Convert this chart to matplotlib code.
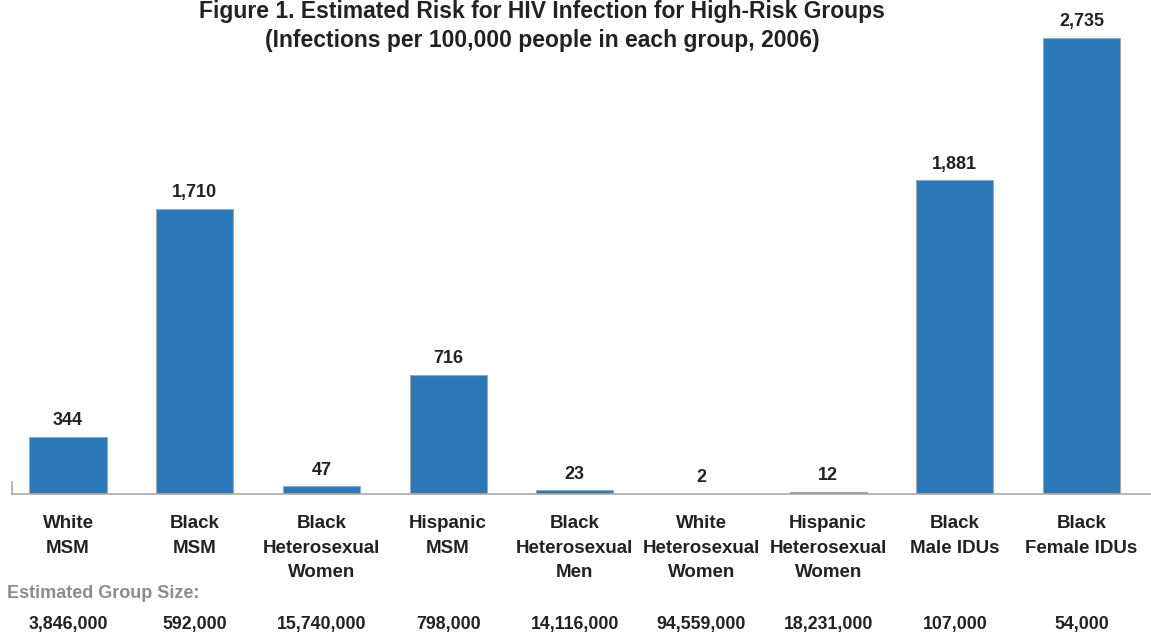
import matplotlib.pyplot as plt

plt.rcParams['font.family'] = ['Liberation Sans', 'DejaVu Sans']

# data
groups = ['White\nMSM', 'Black\nMSM', 'Black\nHeterosexual\nWomen', 'Hispanic\nMSM',
          'Black\nHeterosexual\nMen', 'White\nHeterosexual\nWomen',
          'Hispanic\nHeterosexual\nWomen', 'Black\nMale IDUs', 'Black\nFemale IDUs']
rates = [344, 1710, 47, 716, 23, 2, 12, 1881, 2735]
group_sizes = ['3,846,000', '592,000', '15,740,000', '798,000', '14,116,000',
               '94,559,000', '18,231,000', '107,000', '54,000']

W, H = 1151, 635
fig = plt.figure(figsize=(W / 100, H / 100), dpi=100)
ax = fig.add_axes([12 / W, (H - 494) / H, (W - 12) / W, 494 / H])

x = list(range(len(rates)))
ax.bar(x, rates, width=0.608, color='#2a78b8', edgecolor='#9fa6ad', linewidth=0.8, zorder=2)

ax.set_xlim(-0.442, 8.548)
ax.set_ylim(0, 2963)
for s in ['top', 'right', 'left']:
    ax.spines[s].set_visible(False)
ax.spines['bottom'].set_color('#aaaaaa')
ax.spines['bottom'].set_linewidth(1.2)
ax.axvline(-0.442, ymax=0.024, color='#aaaaaa', lw=1.2, clip_on=False)
ax.set_yticks([])

ax.set_xticks(x)
ax.set_xticklabels(groups, fontsize=13.5, fontweight='bold', linespacing=1.6, color='#222222')
ax.tick_params(axis='x', length=0, pad=15)

# value labels
for xi, v in zip(x, rates):
    ax.annotate(f'{v:,}', (xi, v), xytext=(0, 5.5), textcoords='offset points',
                ha='center', va='bottom', fontsize=13, fontweight='bold', color='#222222')

# group sizes
for xi, s in zip(x, group_sizes):
    ax.annotate(s, (xi, 0), xycoords=('data', 'axes fraction'), xytext=(0, -131),
                textcoords='offset pixels', ha='center', va='center',
                fontsize=12.8, fontweight='bold', color='#222222')

fig.text(7 / W, 1 - 593 / H, 'Estimated Group Size:', ha='left', va='center',
         fontsize=13, fontweight='bold', color='#8c8c8c')

fig.text(542 / W, 1 - 26 / H,
         'Figure 1. Estimated Risk for HIV Infection for High-Risk Groups\n'
         '(Infections per 100,000 people in each group, 2006)',
         ha='center', va='center', fontsize=16.5, fontweight='bold',
         linespacing=1.35, color='#222222')

fig.savefig('out.png', dpi=100)
